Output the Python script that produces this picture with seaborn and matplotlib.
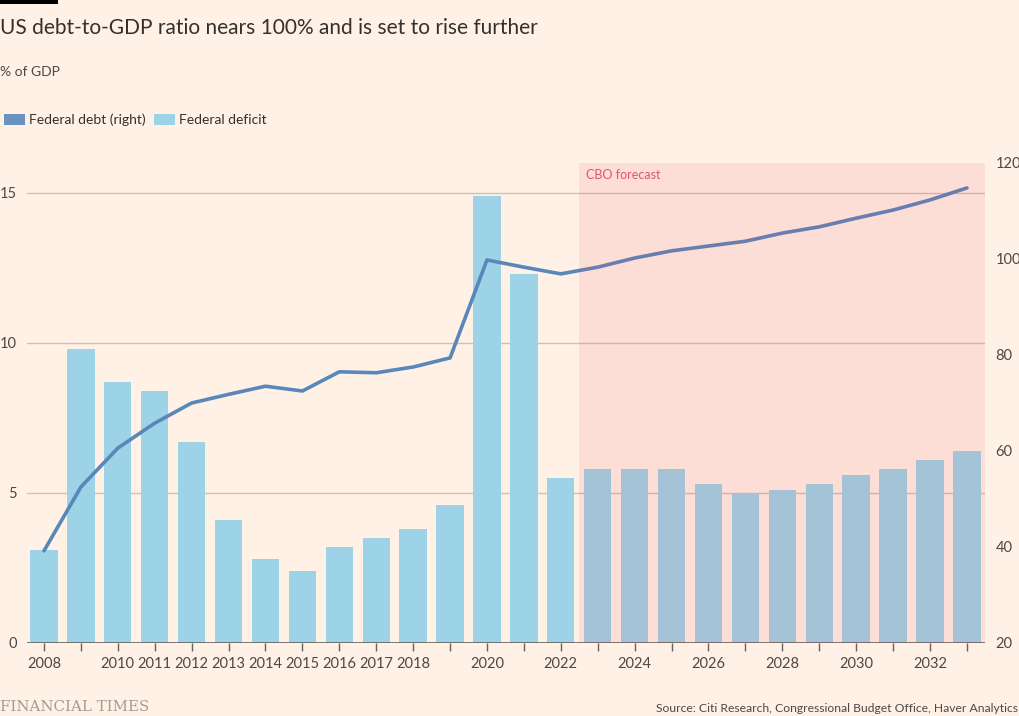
import matplotlib
matplotlib.use("Agg")
import matplotlib.pyplot as plt
import seaborn as sns
import pandas as pd
import numpy as np
from matplotlib.patches import Patch, Rectangle

years = list(range(2008, 2034))
deficit = [3.1, 9.8, 8.7, 8.4, 6.7, 4.1, 2.8, 2.4, 3.2, 3.5, 3.8, 4.6, 14.9, 12.3,
           5.5, 5.8, 5.8, 5.8, 5.3, 5.0, 5.1, 5.3, 5.6, 5.8, 6.1, 6.4]
debt = [39.2, 52.5, 60.6, 65.8, 70.0, 71.8, 73.5, 72.5, 76.5, 76.3, 77.5, 79.4, 99.8, 98.3,
        96.9, 98.3, 100.2, 101.7, 102.7, 103.7, 105.4, 106.7, 108.5, 110.2, 112.3, 114.8]
tick_labels = ["2008", "", "2010", "2011", "2012", "2013", "2014", "2015", "2016", "2017",
               "2018", "", "2020", "", "2022", "", "2024", "", "2026", "", "2028", "",
               "2030", "", "2032", ""]
left_ticks = [0, 5, 10, 15]
right_ticks = [20, 40, 60, 80, 100, 120]
forecast_start = 2023

df = pd.DataFrame({"year": years, "deficit": deficit, "debt": debt})
df["pos"] = np.arange(len(df))

BG = "#FFF1E5"
BAR = "#9DD3E6"
LINE = "#5A87BA"
TXT = "#33302E"
GRID = "#CEC0B4"
FONT = ["Lato", "DejaVu Sans"]

sns.set_theme(style="white")
plt.rcParams["font.family"] = FONT

fig = plt.figure(figsize=(10.2, 7.16), dpi=100, facecolor=BG)
ax = fig.add_axes([27/1020, 1-643/716, (985-27)/1020, (643-163)/716])
ax.set_facecolor(BG)

sns.barplot(data=df, x="pos", y="deficit", color=BAR, width=0.74, ax=ax,
            saturation=1, native_scale=True, zorder=2, linewidth=0, edgecolor="none")
ax.set_xlim(-0.46, len(years) - 0.51)
ax.set_ylim(0, 16)
ax.set_yticks(left_ticks)
ax.set_yticklabels([str(t) for t in left_ticks])
for t in left_ticks[1:]:
    ax.axhline(t, color=GRID, lw=1, zorder=1)
ax.axhline(0, color="#66605C", lw=1.2, zorder=3)

ax2 = ax.twinx()
sns.lineplot(data=df, x="pos", y="debt", color=LINE, lw=2.6, ax=ax2, zorder=4)
ax2.set_ylim(20, 120)
ax2.set_yticks(right_ticks)
ax2.set_yticklabels([str(t) for t in right_ticks])
ax2.set_xlim(-0.46, len(years) - 0.51)

# forecast shading overlay
fs = years.index(forecast_start) - 0.5
ax2.axvspan(fs, len(years) - 0.51, color="#E93858", alpha=0.10, lw=0, zorder=5)
ax2.text(fs + 0.18, 117.5, "CBO forecast", color="#E0566E", fontsize=9,
         ha="left", va="center", zorder=6)

for a in (ax, ax2):
    for s in a.spines.values():
        s.set_visible(False)
    a.set_xlabel("")
    a.set_ylabel("")

ax.set_xticks(df["pos"])
ax.set_xticklabels(tick_labels)
ax.tick_params(axis="x", length=6, width=1, color="#66605C", direction="out",
               pad=4, labelsize=10.5, labelcolor="#4D4845", bottom=True)
ax.tick_params(axis="y", length=0, pad=7.5, labelsize=10.5, labelcolor="#4D4845")
ax2.tick_params(axis="y", length=0, pad=7.5, labelsize=10.5, labelcolor="#4D4845")
ax2.tick_params(axis="x", bottom=False, labelbottom=False)

# titles
fig.add_artist(Rectangle((0, 1-4/716), 58/1020, 4/716, transform=fig.transFigure,
                         color="black", lw=0))
fig.text(0.0, 1-28/716, "US debt-to-GDP ratio nears 100% and is set to rise further",
         fontsize=15, color=TXT, va="center", ha="left")
fig.text(0.0, 1-72/716, "% of GDP", fontsize=10, color="#4D4845", va="center", ha="left")

handles = [Patch(facecolor="#6A93BF", edgecolor="none", label="Federal debt (right)"),
           Patch(facecolor=BAR, edgecolor="none", label="Federal deficit")]
fig.legend(handles=handles, loc="center left", bbox_to_anchor=(-0.008, 1-120/716),
           ncol=2, frameon=False, fontsize=10, handlelength=1.5, handleheight=0.8,
           handletextpad=0.3, columnspacing=0.6, labelcolor="#33302E")

fig.text(0.0, 1-707/716, "FINANCIAL TIMES", fontsize=10.8, color="#A69C94",
         family=["DejaVu Serif"], va="center", ha="left")
fig.text(1-2/1020, 1-708/716, "Source: Citi Research, Congressional Budget Office, Haver Analytics",
         fontsize=8.7, color="#4D4845", va="center", ha="right")

fig.savefig("out.png", dpi=100, facecolor=BG)
